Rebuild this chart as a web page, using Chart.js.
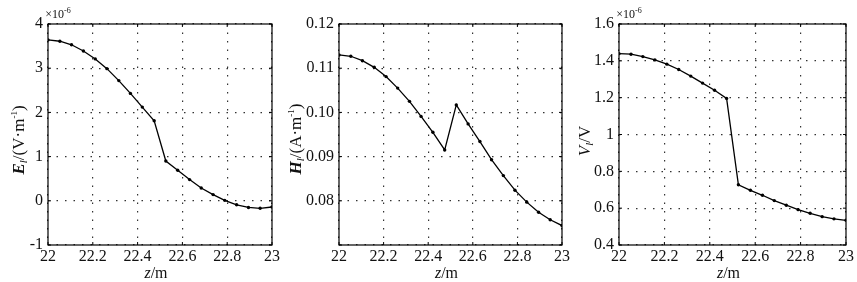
<!DOCTYPE html>
<html>
<head>
<meta charset="utf-8">
<script src="https://cdn.jsdelivr.net/npm/chart.js@4.4.1/dist/chart.umd.min.js"></script>
<style>
html,body{margin:0;padding:0;background:#fff;overflow:hidden;width:857px;height:282px;}
.box{position:absolute;top:0;height:282px;}
canvas{display:block;}
</style>
</head>
<body>
<div class="box" style="left:0px;width:286px"><canvas id="c1" width="286" height="282"></canvas></div>
<div class="box" style="left:286px;width:286px"><canvas id="c2" width="286" height="282"></canvas></div>
<div class="box" style="left:572px;width:285px"><canvas id="c3" width="285" height="282"></canvas></div>
<script>
// ---- data ----
const zValues = [22.000, 22.053, 22.105, 22.158, 22.211, 22.263, 22.316, 22.368, 22.421, 22.474,
                 22.526, 22.579, 22.632, 22.684, 22.737, 22.789, 22.842, 22.895, 22.947, 23.000];
const eValues = [3.64, 3.61, 3.53, 3.39, 3.21, 2.99, 2.72, 2.43, 2.12, 1.81,
                 0.90, 0.69, 0.48, 0.29, 0.14, 0.01, -0.09, -0.15, -0.17, -0.14]; // x10^-6
const hValues = [0.1130, 0.1127, 0.1117, 0.1102, 0.1081, 0.1055, 0.1025, 0.0991, 0.0955, 0.0915,
                 0.1017, 0.0974, 0.0934, 0.0893, 0.0857, 0.0824, 0.0797, 0.0774, 0.0757, 0.0744];
const vValues = [1.439, 1.436, 1.423, 1.405, 1.382, 1.353, 1.317, 1.279, 1.240, 1.196,
                 0.727, 0.697, 0.670, 0.641, 0.616, 0.592, 0.572, 0.554, 0.542, 0.534]; // x10^-6
const xTickLabels = ["22", "22.2", "22.4", "22.6", "22.8", "23"];
const eTickLabels = ["-1", "0", "1", "2", "3", "4"];
const hTickLabels = ["", "0.08", "0.09", "0.10", "0.11", "0.12"];
const vTickLabels = ["0.4", "0.6", "0.8", "1", "1.2", "1.4", "1.6"];

const SERIF = 'Liberation Serif';
const INK = '#111';
Chart.defaults.font.family = SERIF;
Chart.defaults.font.size = 16;
Chart.defaults.color = INK;

function drawRich(ctx, segs, x, y, rotate) {
  ctx.save();
  ctx.translate(x, y);
  if (rotate) ctx.rotate(-Math.PI / 2);
  let w = 0;
  segs.forEach(s => { ctx.font = s.f; w += ctx.measureText(s.t).width; });
  let cx = -w / 2;
  ctx.fillStyle = INK;
  ctx.textBaseline = 'alphabetic';
  ctx.textAlign = 'left';
  segs.forEach(s => {
    ctx.font = s.f;
    ctx.fillText(s.t, cx, (s.dy || 0));
    cx += ctx.measureText(s.t).width;
  });
  ctx.restore();
}

const decor = {
  id: 'decor',
  afterDraw(chart, args, opts) {
    const { ctx, chartArea: a, scales } = chart;
    ctx.save();
    ctx.strokeStyle = '#000';
    ctx.lineWidth = 1.2;
    ctx.strokeRect(a.left, a.top, a.right - a.left, a.bottom - a.top);
    ctx.lineWidth = 1;
    ctx.beginPath();
    scales.x.ticks.forEach(t => {
      const p = scales.x.getPixelForValue(t.value);
      ctx.moveTo(p, a.bottom); ctx.lineTo(p, a.bottom - 3);
      ctx.moveTo(p, a.top); ctx.lineTo(p, a.top + 3);
    });
    scales.y.ticks.forEach(t => {
      const p = scales.y.getPixelForValue(t.value);
      ctx.moveTo(a.left, p); ctx.lineTo(a.left + 3, p);
      ctx.moveTo(a.right, p); ctx.lineTo(a.right - 3, p);
    });
    ctx.stroke();
    ctx.restore();
    // x title
    drawRich(ctx, [
      { t: 'z', f: 'italic 16px ' + SERIF },
      { t: '/m', f: '16px ' + SERIF }
    ], (a.left + a.right) / 2 - 4, 278, false);
    // y title
    drawRich(ctx, opts.ySegs, opts.yX, opts.yY, true);
    if (opts.exp) {
      drawRich(ctx, [
        { t: '\u00d710', f: '12px ' + SERIF },
        { t: '-6', f: '8px ' + SERIF, dy: -5 }
      ], a.left + 10, 18, false);
    }
  }
};

function makeChart(id, yData, yMin, yMax, yStep, yLabels, yWidth, rightPad, decorOpts) {
  const pts = zValues.map((z, i) => ({ x: z, y: yData[i] }));
  return new Chart(document.getElementById(id), {
    type: 'line',
    data: {
      datasets: [{
        data: pts,
        borderColor: '#000',
        borderWidth: 1.3,
        pointRadius: 1.7,
        pointBackgroundColor: '#000',
        pointBorderWidth: 0,
        tension: 0,
        fill: false
      }]
    },
    options: {
      responsive: false,
      animation: false,
      events: [],
      layout: { padding: { top: 24, right: rightPad, left: 0, bottom: 0 } },
      plugins: { legend: { display: false }, tooltip: { enabled: false }, decor: decorOpts },
      scales: {
        x: {
          type: 'linear', min: 22, max: 23,
          ticks: {
            stepSize: 0.2, padding: 2, color: INK,
            font: { family: SERIF, size: 16 },
            maxRotation: 0, autoSkip: false,
            callback: (v, i) => xTickLabels[i]
          },
          grid: { color: '#333', lineWidth: 1.2, drawTicks: false },
          border: { display: false, dash: [1.5, 7] },
          afterFit: s => { s.height = 37; }
        },
        y: {
          type: 'linear', min: yMin, max: yMax,
          ticks: {
            stepSize: yStep, padding: 5, color: INK,
            font: { family: SERIF, size: 16 },
            autoSkip: false,
            callback: (v, i) => yLabels[i]
          },
          grid: { color: '#333', lineWidth: 1.2, drawTicks: false },
          border: { display: false, dash: [1.5, 7] },
          afterFit: s => { s.width = yWidth; }
        }
      }
    },
    plugins: [decor]
  });
}

makeChart('c1', eValues, -1, 4, 1, eTickLabels, 48, 14, {
  ySegs: [
    { t: 'E', f: 'bold italic 17px ' + SERIF },
    { t: 'l', f: 'italic 11px ' + SERIF, dy: 3 },
    { t: '/(V\u00b7m', f: '17px ' + SERIF },
    { t: '-1', f: '9px ' + SERIF, dy: -7 },
    { t: ')', f: '17px ' + SERIF }
  ], yX: 24, yY: 140, exp: true
});
makeChart('c2', hValues, 0.07, 0.12, 0.01, hTickLabels, 53, 10, {
  ySegs: [
    { t: 'H', f: 'bold italic 17px ' + SERIF },
    { t: 'l', f: 'italic 11px ' + SERIF, dy: 3 },
    { t: '/(A\u00b7m', f: '17px ' + SERIF },
    { t: '-1', f: '9px ' + SERIF, dy: -7 },
    { t: ')', f: '17px ' + SERIF }
  ], yX: 15, yY: 139, exp: false
});
makeChart('c3', vValues, 0.4, 1.6, 0.2, vTickLabels, 47, 11, {
  ySegs: [
    { t: 'V', f: 'italic 17px ' + SERIF },
    { t: 'l', f: 'italic 11px ' + SERIF, dy: 3 },
    { t: '/V', f: '17px ' + SERIF }
  ], yX: 18, yY: 141, exp: true
});
</script>
</body>
</html>
